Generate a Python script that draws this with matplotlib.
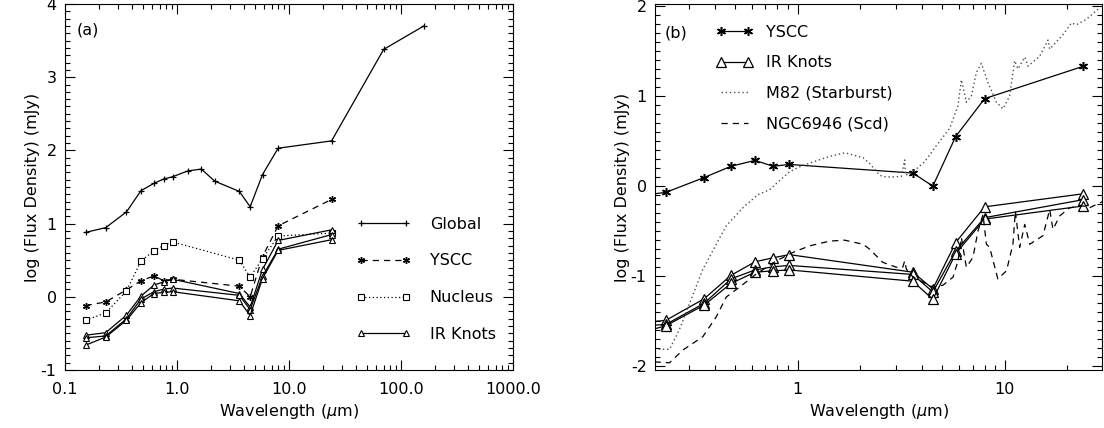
import numpy as np
import matplotlib
matplotlib.use("Agg")
import matplotlib.pyplot as plt

#config
OUT_FILE   = "out.png"
FONT_SIZE  = 11.5
ASTERISK   = (6, 2, 0)   # 6-armed star, like the IDL "*" symbol

plt.rcParams["font.family"] = ["DejaVu Sans"]
plt.rcParams["axes.unicode_minus"] = False
plt.rcParams["font.size"] = FONT_SIZE

# photometric bands (micron)
wl_global = [0.153, 0.231, 0.354, 0.477, 0.623, 0.762, 0.913, 1.25, 1.65, 2.17,
             3.6, 4.5, 5.8, 8.0, 24.0, 70.0, 160.0]
flux_global = [0.88, 0.945, 1.16, 1.45, 1.55, 1.61, 1.64, 1.72, 1.745, 1.58,
               1.44, 1.23, 1.67, 2.03, 2.13, 3.38, 3.70]

wl_local = [0.153, 0.231, 0.354, 0.477, 0.623, 0.762, 0.913, 3.6, 4.5, 5.8, 8.0, 24.0]
flux_yscc = [-0.12, -0.07, 0.095, 0.22, 0.285, 0.22, 0.24, 0.145, 0.0, 0.55, 0.97, 1.33]
flux_nucleus = [-0.32, -0.22, 0.08, 0.49, 0.63, 0.70, 0.75, 0.50, 0.27, 0.52, 0.83, 0.87]
flux_knot_a = [-0.525, -0.49, -0.25, 0.01, 0.16, 0.205, 0.24, 0.045, -0.14, 0.374, 0.77, 0.915]
flux_knot_b = [-0.56, -0.535, -0.30, -0.03, 0.07, 0.105, 0.12, 0.02, -0.175, 0.28, 0.65, 0.85]
flux_knot_c = [-0.66, -0.55, -0.32, -0.08, 0.045, 0.06, 0.07, -0.055, -0.256, 0.25, 0.634, 0.78]
KNOT_SHIFT_B = -1.0   # knots are shifted down by 1 dex in panel (b)

# template SEDs (panel b)
wl_m82 = [0.204, 0.241, 0.269, 0.306, 0.348, 0.405, 0.453, 0.545, 0.643, 0.732,
          0.915, 1.06, 1.43, 1.69, 2.07, 2.23, 2.49, 2.68, 3.17, 3.29, 3.32, 3.61,
          4.11, 4.68, 5.42, 5.95, 6.18, 6.53, 6.90, 7.30, 7.71, 8.30, 9.12, 9.81,
          10.57, 11.17, 11.59, 12.50, 12.96, 14.76, 16.19, 16.49, 19.13, 21.0,
          22.2, 24.8, 28.8]
flux_m82 = [-1.81, -1.81, -1.59, -1.26, -0.93, -0.645, -0.44, -0.24, -0.095, -0.04,
            0.16, 0.23, 0.33, 0.37, 0.315, 0.25, 0.12, 0.10, 0.107, 0.29, 0.12, 0.16,
            0.27, 0.45, 0.64, 0.89, 1.18, 0.93, 1.0, 1.26, 1.36, 1.15, 0.93, 0.857,
            1.0, 1.39, 1.30, 1.43, 1.33, 1.44, 1.62, 1.52, 1.68, 1.81,
            1.79, 1.85, 1.98]

wl_ngc = [0.204, 0.241, 0.279, 0.349, 0.405, 0.453, 0.525, 0.632, 0.789, 0.949,
          1.143, 1.43, 1.69, 2.07, 2.23, 2.58, 3.00, 3.22, 3.29, 3.35, 3.61, 4.50,
          5.03, 5.63, 5.95, 6.18, 6.53, 7.03, 7.43, 7.86, 8.16, 8.46, 9.27, 10.2,
          10.96, 11.26, 11.81, 12.50, 13.21, 15.31, 16.49, 17.10, 18.45, 20.6,
          23.9, 25.7, 29.8]
flux_ngc = [-1.95, -1.96, -1.82, -1.67, -1.45, -1.23, -1.12, -0.975, -0.83, -0.736,
            -0.663, -0.61, -0.60, -0.645, -0.70, -0.846, -0.90, -0.90, -0.83, -0.92, -1.01, -1.12,
            -1.10, -1.01, -0.83, -0.57, -0.90, -0.79, -0.50, -0.315, -0.645, -0.68, -1.03, -0.94,
            -0.645, -0.28, -0.68, -0.425, -0.645, -0.55, -0.26, -0.48, -0.33, -0.24,
            -0.22, -0.24, -0.17]

xticks_a = [0.1, 1.0, 10.0, 100.0, 1000.0]
xlabels_a = ["0.1", "1.0", "10.0", "100.0", "1000.0"]
xticks_b = [1, 10]
xlabels_b = ["1", "10"]

DOTTED = (0, (1, 2))
DASHED = (0, (5, 4))


def style_axes(ax):
    ax.set_xscale("log")
    ax.tick_params(which="both", direction="in", top=True, right=True,
                   width=0.8, labelsize=FONT_SIZE)
    ax.tick_params(which="major", length=7, pad=9)
    ax.tick_params(which="minor", length=3.5)
    ax.tick_params(axis="y", which="major", pad=6)
    ax.yaxis.set_minor_locator(matplotlib.ticker.MultipleLocator(0.1))
    for sp in ax.spines.values():
        sp.set_linewidth(0.8)
    ax.set_xlabel(r"Wavelength ($\mu$m)", labelpad=3)
    ax.set_ylabel("log (Flux Density) (mJy)")
    ax.yaxis.set_label_coords(-0.056, 0.5)


def panel_a(ax):
    lw = 0.9
    ax.plot(wl_global, flux_global, "k-", lw=lw, marker="+", ms=5, mew=0.9, label="Global")
    ax.plot(wl_local, flux_yscc, color="k", ls=DASHED, lw=lw, marker=ASTERISK, ms=5,
            mew=1.0, label="YSCC")
    ax.plot(wl_local, flux_nucleus, color="k", ls=DOTTED, lw=lw, marker="s", ms=4.5,
            mfc="white", mec="k", mew=0.8, label="Nucleus")
    for i, knot in enumerate([flux_knot_a, flux_knot_b, flux_knot_c]):
        ax.plot(wl_local, knot, "k-", lw=lw, marker="^", ms=5, mfc="white", mec="k",
                mew=0.8, label="IR Knots" if i == 0 else None)

    ax.set_xlim(0.1, 1000)
    ax.set_ylim(-1, 4)
    ax.set_xticks(xticks_a)
    ax.set_xticklabels(xlabels_a)
    ax.text(0.027, 0.93, "(a)", transform=ax.transAxes, va="center", fontsize=FONT_SIZE)
    ax.legend(loc="upper left", bbox_to_anchor=(0.65, 0.419), frameon=False,
              numpoints=2, handlelength=3.4, handletextpad=1.2, labelspacing=1.36,
              borderpad=0, borderaxespad=0, fontsize=FONT_SIZE)


def panel_b(ax):
    lw = 0.9
    ax.plot(wl_local, flux_yscc, "k-", lw=lw, marker=ASTERISK, ms=6.5, mew=1.1, label="YSCC")
    for i, knot in enumerate([flux_knot_a, flux_knot_b, flux_knot_c]):
        ax.plot(wl_local, np.array(knot) + KNOT_SHIFT_B, "k-", lw=lw, marker="^", ms=7,
                mfc="white", mec="k", mew=0.9, label="IR Knots" if i == 0 else None)
    ax.plot(wl_m82, flux_m82, color="0.3", ls=DOTTED, lw=1.0, label="M82 (Starburst)")
    ax.plot(wl_ngc, flux_ngc, color="k", ls=DASHED, lw=0.9, label="NGC6946 (Scd)")

    ax.set_xlim(0.205, 29.5)
    ax.set_ylim(-2.04, 2.02)
    ax.set_xticks(xticks_b)
    ax.set_xticklabels(xlabels_b)
    ax.yaxis.set_major_locator(matplotlib.ticker.MultipleLocator(1))
    ax.text(0.022, 0.92, "(b)", transform=ax.transAxes, va="center", fontsize=FONT_SIZE)
    ax.legend(loc="upper left", bbox_to_anchor=(0.136, 0.943), frameon=False,
              numpoints=2, handlelength=2.3, handletextpad=0.87, labelspacing=0.97,
              borderpad=0, borderaxespad=0, fontsize=FONT_SIZE)


def main():
    fig = plt.figure(figsize=(11.04, 4.28), dpi=100)
    ax1 = fig.add_axes([65 / 1104, 58 / 428, 448 / 1104, 366 / 428])
    ax2 = fig.add_axes([655 / 1104, 58 / 428, 447 / 1104, 366 / 428])
    style_axes(ax1)
    style_axes(ax2)
    panel_a(ax1)
    panel_b(ax2)
    fig.savefig(OUT_FILE, dpi=100)
    plt.close(fig)


if __name__ == "__main__":
    main()
